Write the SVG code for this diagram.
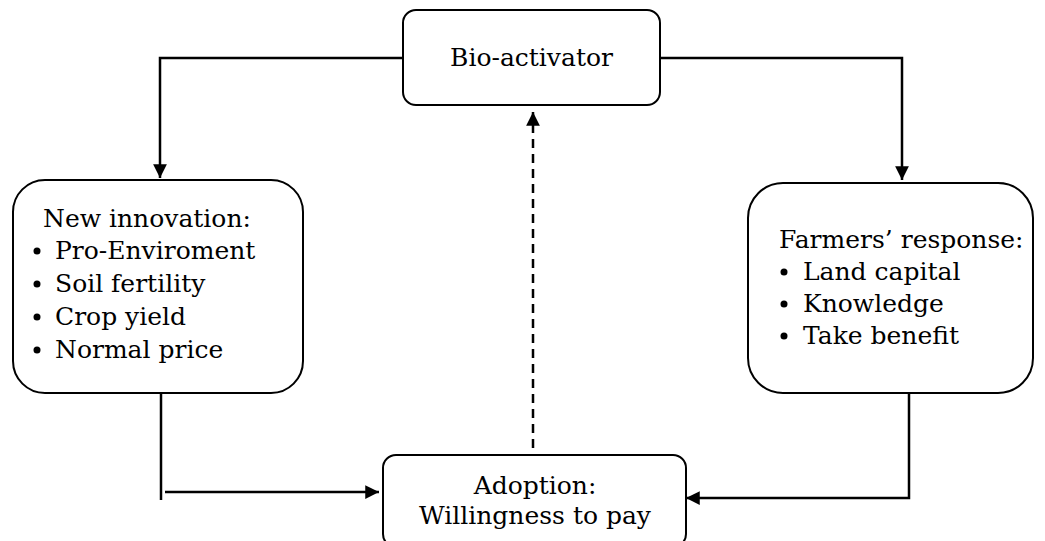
<svg xmlns="http://www.w3.org/2000/svg" width="1045" height="541" viewBox="0 0 1045 541">
<defs>
<marker id="arr" viewBox="0 0 10 10" refX="10" refY="5" markerWidth="5.5" markerHeight="5.5" orient="auto-start-reverse" markerUnits="strokeWidth">
<path d="M0,0 L10,5 L0,10 Z" fill="#000"/>
</marker>
<style>
.box{fill:#fff;stroke:#000;stroke-width:2}
.t{font-family:"DejaVu Serif",serif;font-size:25px;fill:#000}
.c{fill:none;stroke:#000;stroke-width:2.5}
</style>
</defs>
<rect width="1045" height="541" fill="#fff"/>
<g id="connectors">
<path class="c" d="M403,58 H160 V178" marker-end="url(#arr)"/>
<path class="c" d="M660,58 H902 V180" marker-end="url(#arr)"/>
<path class="c" d="M533,448 V112" stroke-dasharray="9,6" marker-end="url(#arr)"/>
<path class="c" d="M161,393 V500"/>
<path class="c" d="M165,492 H379" marker-end="url(#arr)"/>
<path class="c" d="M909,393 V498 H686" marker-end="url(#arr)"/>
</g>
<g id="bio">
<rect class="box" x="403" y="10" width="257" height="95" rx="13"/>
<text class="t" x="531.5" y="66" text-anchor="middle">Bio-activator</text>
</g>
<g id="innovation">
<rect class="box" x="13" y="180" width="290" height="213" rx="32"/>
<text class="t" x="43" y="227">New innovation:</text>
<g class="t"><circle cx="37" cy="251" r="3.5"/><circle cx="37" cy="284" r="3.5"/><circle cx="37" cy="317" r="3.5"/><circle cx="37" cy="350" r="3.5"/></g>
<text class="t" x="55" y="259">Pro-Enviroment</text>
<text class="t" x="55" y="292">Soil fertility</text>
<text class="t" x="55" y="325">Crop yield</text>
<text class="t" x="55" y="358">Normal price</text>
</g>
<g id="farmers">
<rect class="box" x="748" y="183" width="285" height="210" rx="35"/>
<text class="t" x="779" y="248">Farmers’ response:</text>
<g class="t"><circle cx="784" cy="272" r="3.5"/><circle cx="784" cy="304" r="3.5"/><circle cx="784" cy="336" r="3.5"/></g>
<text class="t" x="803" y="280">Land capital</text>
<text class="t" x="803" y="312">Knowledge</text>
<text class="t" x="803" y="344">Take benefit</text>
</g>
<g id="adoption">
<rect class="box" x="383" y="455" width="303" height="92" rx="13"/>
<text class="t" x="535" y="494" text-anchor="middle">Adoption:</text>
<text class="t" x="535" y="524" text-anchor="middle">Willingness to pay</text>
</g>
</svg>
